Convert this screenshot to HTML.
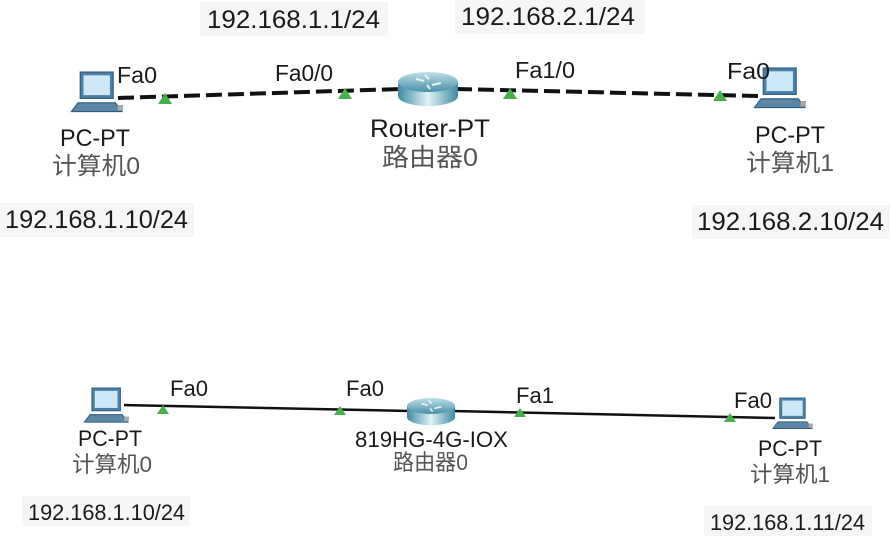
<!DOCTYPE html>
<html><head><meta charset="utf-8"><style>
body{margin:0;background:#fff;}
svg{display:block;font-family:"Liberation Sans","Noto Sans CJK SC",sans-serif;}
.t{fill:#1a1a1a;}
.c{fill:#555;}
</style></head><body>
<svg width="892" height="540" viewBox="0 0 892 540">
<defs>
<linearGradient id="rg" x1="0" y1="0" x2="0" y2="1"><stop offset="0" stop-color="#bfe0ea"/><stop offset="1" stop-color="#4a90a8"/></linearGradient>
<linearGradient id="rs" x1="0" y1="0" x2="1" y2="0"><stop offset="0" stop-color="#3f8aa3"/><stop offset="0.5" stop-color="#dff2f7"/><stop offset="1" stop-color="#3f8aa3"/></linearGradient>
<g id="pc">
<rect x="2" y="0" width="30" height="24" fill="#4a7fa8" stroke="#2c5a7d"/>
<rect x="5" y="3" width="24" height="18" fill="#cfe8f7"/>
<polygon points="0,28 34,28 40,36 -6,36" fill="#5b86a6" stroke="#2c5a7d"/>
<rect x="36" y="30" width="5" height="5" fill="#aaa"/>
</g>
<g id="router">
<path d="M-30,0 v14 a30,10 0 0 0 60,0 v-14 z" fill="url(#rs)"/>
<ellipse cx="0" cy="0" rx="30" ry="10" fill="url(#rg)"/>
<path d="M-12,-3 l8,2 M4,3 l9,-2 M-3,-7 l4,4 M2,7 l-3,-4" stroke="#e8f4f8" stroke-width="2"/>
</g>
</defs>

<rect x="200" y="2" width="188" height="34" fill="#f5f6f8"/>
<text x="207" y="28" font-size="25" textLength="173" lengthAdjust="spacingAndGlyphs" class="t">192.168.1.1/24</text>
<rect x="455" y="0" width="190" height="34" fill="#f5f6f8"/>
<text x="461" y="25" font-size="25" textLength="174" lengthAdjust="spacingAndGlyphs" class="t">192.168.2.1/24</text>
<rect x="0" y="203" width="194" height="34" fill="#f5f6f8"/>
<text x="5" y="228" font-size="25" textLength="183" lengthAdjust="spacingAndGlyphs" class="t">192.168.1.10/24</text>
<rect x="692" y="205" width="198" height="34" fill="#f5f6f8"/>
<text x="697" y="230" font-size="25" textLength="187" lengthAdjust="spacingAndGlyphs" class="t">192.168.2.10/24</text>

<g>
<line x1="118" y1="98" x2="400" y2="89" stroke="#111" stroke-width="4" stroke-dasharray="16,6"/>
</g>
<g>
<line x1="456" y1="89" x2="758" y2="96" stroke="#111" stroke-width="4" stroke-dasharray="16,6"/>
</g>
<g fill="#47b04b">
<polygon points="158,104 172,104 165,93"/>
<polygon points="338,99 352,99 345,88"/>
<polygon points="503,99 517,99 510,88"/>
<polygon points="713,101 727,101 720,90"/>
</g>
<g transform="translate(78,72) scale(1.1)"><use href="#pc"/></g>
<use href="#router" x="428" y="82"/>
<g transform="translate(761,68) scale(1.1)"><use href="#pc"/></g>

<text x="117" y="83" font-size="23" textLength="40" lengthAdjust="spacingAndGlyphs" class="t">Fa0</text>
<text x="275" y="81" font-size="23" textLength="58" lengthAdjust="spacingAndGlyphs" class="t">Fa0/0</text>
<text x="515" y="78" font-size="23" textLength="60" lengthAdjust="spacingAndGlyphs" class="t">Fa1/0</text>
<text x="727" y="79" font-size="23" textLength="43" lengthAdjust="spacingAndGlyphs" class="t">Fa0</text>

<text x="60" y="146" font-size="24" textLength="70" lengthAdjust="spacingAndGlyphs" class="t">PC-PT</text>
<text x="52" y="174" font-size="24" textLength="88" lengthAdjust="spacingAndGlyphs" class="c">计算机0</text>
<text x="370" y="137" font-size="25" textLength="120" lengthAdjust="spacingAndGlyphs" class="t">Router-PT</text>
<text x="382" y="166" font-size="25" textLength="96" lengthAdjust="spacingAndGlyphs" class="c">路由器0</text>
<text x="755" y="143" font-size="24" textLength="70" lengthAdjust="spacingAndGlyphs" class="t">PC-PT</text>
<text x="746" y="171" font-size="24" textLength="88" lengthAdjust="spacingAndGlyphs" class="c">计算机1</text>

<g>
<line x1="124" y1="405" x2="410" y2="411" stroke="#111" stroke-width="2.5"/>
</g>
<g>
<line x1="452" y1="411" x2="775" y2="418" stroke="#111" stroke-width="2.5"/>
</g>
<g fill="#47b04b">
<polygon points="157,414 169,414 163,405"/>
<polygon points="334,415 346,415 340,406"/>
<polygon points="514,417 526,417 520,408"/>
<polygon points="724,422 736,422 730,413"/>
</g>
<g transform="translate(90,388) scale(0.95)"><use href="#pc"/></g>
<g transform="translate(431,406) scale(0.8)"><use href="#router"/></g>
<g transform="translate(778,398) scale(0.85)"><use href="#pc"/></g>

<text x="170" y="396" font-size="22" textLength="38" lengthAdjust="spacingAndGlyphs" class="t">Fa0</text>
<text x="346" y="396" font-size="22" textLength="38" lengthAdjust="spacingAndGlyphs" class="t">Fa0</text>
<text x="516" y="403" font-size="22" textLength="38" lengthAdjust="spacingAndGlyphs" class="t">Fa1</text>
<text x="734" y="408" font-size="22" textLength="38" lengthAdjust="spacingAndGlyphs" class="t">Fa0</text>

<text x="78" y="446" font-size="22" textLength="64" lengthAdjust="spacingAndGlyphs" class="t">PC-PT</text>
<text x="72" y="472" font-size="22" textLength="80" lengthAdjust="spacingAndGlyphs" class="c">计算机0</text>
<text x="355" y="447" font-size="22" textLength="153" lengthAdjust="spacingAndGlyphs" class="t">819HG-4G-IOX</text>
<text x="393" y="470" font-size="22" textLength="75" lengthAdjust="spacingAndGlyphs" class="c">路由器0</text>
<text x="758" y="456" font-size="22" textLength="64" lengthAdjust="spacingAndGlyphs" class="t">PC-PT</text>
<text x="750" y="482" font-size="22" textLength="80" lengthAdjust="spacingAndGlyphs" class="c">计算机1</text>

<rect x="22" y="496" width="168" height="30" fill="#f5f6f8"/>
<text x="28" y="520" font-size="22" textLength="157" lengthAdjust="spacingAndGlyphs" class="t">192.168.1.10/24</text>
<rect x="704" y="506" width="168" height="30" fill="#f5f6f8"/>
<text x="710" y="530" font-size="22" textLength="155" lengthAdjust="spacingAndGlyphs" class="t">192.168.1.11/24</text>
</svg>
</body></html>
